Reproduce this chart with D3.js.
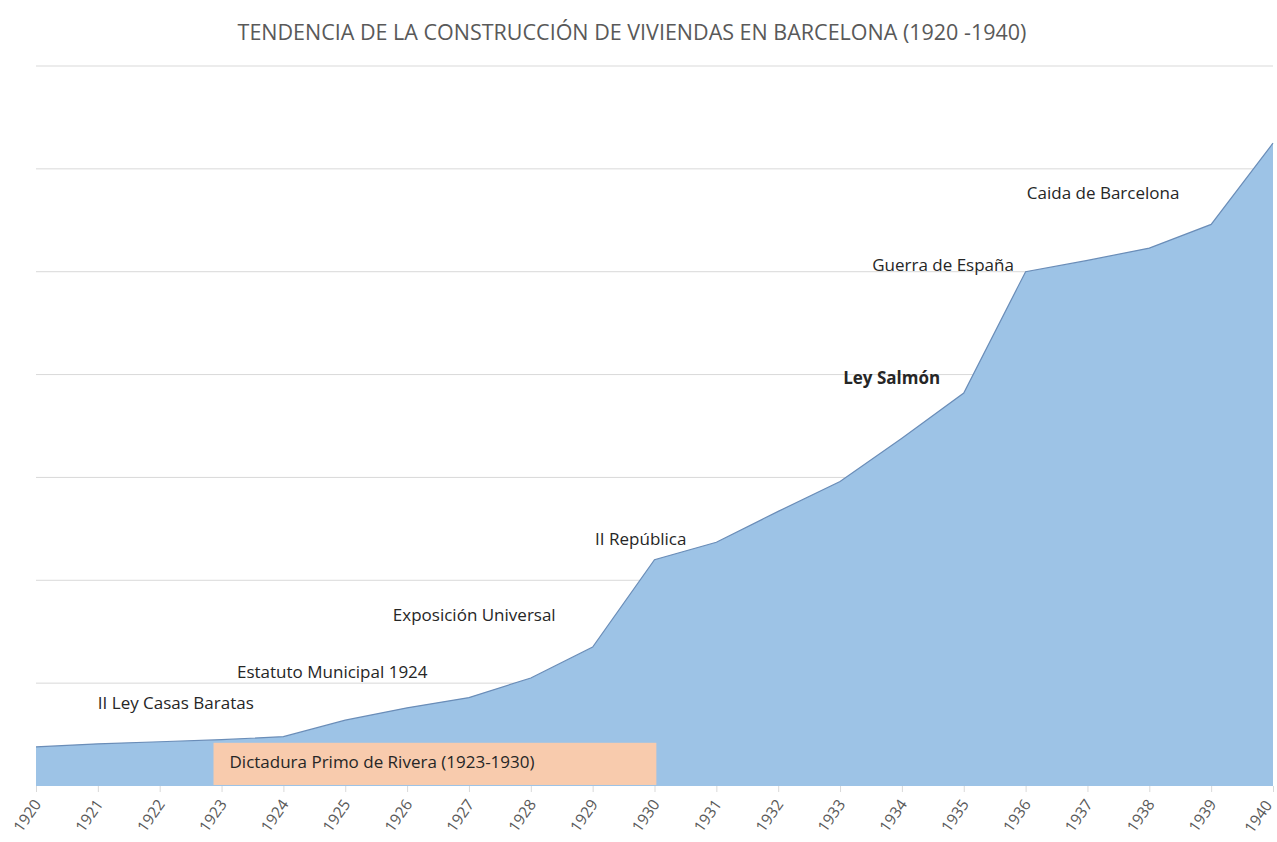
<!DOCTYPE html>
<html>
<head>
<meta charset="utf-8">
<script src="https://cdn.jsdelivr.net/npm/d3@7"></script>
<style>
  body { margin: 0; background: #fff; }
  svg { display: block; font-family: "Open Sans", sans-serif; }
</style>
</head>
<body>
<div id="chart"></div>
<script>
const years = d3.range(1920, 1941);
// built dwellings, relative units read off the gridlines (no y labels in source)
const values = [0.38, 0.41, 0.43, 0.45, 0.48, 0.64, 0.76, 0.86, 1.05, 1.35, 2.20,
                2.37, 2.67, 2.96, 3.38, 3.82, 5.00, 5.11, 5.23, 5.46, 6.25];
const gridValues = [1, 2, 3, 4, 5, 6, 7];

// events: text, year where text starts, value at text baseline
const eventLabels = ["II Ley Casas Baratas", "Estatuto Municipal 1924", "Exposición Universal",
                     "II República", "Ley Salmón", "Guerra de España", "Caida de Barcelona"];
const eventYears = [1921.0, 1923.25, 1925.77, 1929.04, 1933.05, 1933.52, 1936.02];
const eventValues = [0.75, 1.05, 1.60, 2.34, 3.91, 5.01, 5.71];
const eventBold = [false, false, false, false, true, false, false];

const dictLabel = "Dictadura Primo de Rivera (1923-1930)";
const dictRange = [1922.87, 1930.03];
const dictValues = [0.01, 0.42];

const title = "TENDENCIA DE LA CONSTRUCCIÓN DE VIVIENDAS EN BARCELONA (1920 -1940)";

const width = 1277, height = 842;
const margin = {top: 66, right: 4, bottom: 56, left: 36};

const svg = d3.select("#chart")
  .append("svg")
    .attr("width", width)
    .attr("height", height);

const x = d3.scaleLinear()
    .domain([1920, 1940])
    .range([margin.left, width - margin.right]);
const y = d3.scaleLinear()
    .domain([0, 7])
    .range([height - margin.bottom, margin.top]);

svg.append("text")
    .attr("x", 632)
    .attr("y", 40)
    .attr("text-anchor", "middle")
    .attr("fill", "#595959")
    .style("font-size", "21.5px")
    .text(title);

// gridlines
svg.append("g")
  .selectAll("line")
  .data(gridValues)
  .join("line")
    .attr("x1", x(1920))
    .attr("x2", x(1940))
    .attr("y1", d => y(d))
    .attr("y2", d => y(d))
    .attr("stroke", "#d9d9d9")
    .attr("stroke-width", 1);

const data = years.map((yr, i) => ({year: yr, value: values[i]}));

svg.append("path")
  .datum(data)
    .attr("fill", "#9dc3e6")
    .attr("d", d3.area()
      .x(d => x(d.year))
      .y0(y(0))
      .y1(d => y(d.value)));

svg.append("path")
  .datum(data)
    .attr("fill", "none")
    .attr("stroke", "#6a8db8")
    .attr("stroke-width", 1.2)
    .attr("d", d3.line()
      .x(d => x(d.year))
      .y(d => y(d.value)));

// dictatorship box
svg.append("rect")
    .attr("x", x(dictRange[0]))
    .attr("y", y(dictValues[1]))
    .attr("width", x(dictRange[1]) - x(dictRange[0]))
    .attr("height", y(dictValues[0]) - y(dictValues[1]))
    .attr("fill", "#f8cbad");

svg.append("text")
    .attr("x", x(dictRange[0]) + 16)
    .attr("y", y(0.175))
    .attr("fill", "#262626")
    .style("font-size", "17px")
    .text(dictLabel);

// x axis
const xAxis = svg.append("g")
    .attr("transform", `translate(0, ${y(0)})`)
    .call(d3.axisBottom(x)
      .tickValues(years)
      .tickFormat(d3.format("d"))
      .tickSize(6));
xAxis.select(".domain").remove();
xAxis.selectAll(".tick line").attr("stroke", "#d9d9d9");
xAxis.selectAll(".tick text")
    .attr("fill", "#595959")
    .style("font-size", "15.5px")
    .style("font-family", "'Open Sans', sans-serif")
    .attr("text-anchor", "end")
    .attr("x", 0)
    .attr("y", 0)
    .attr("dy", "0.35em")
    // last label pulled in a little so it stays inside the page
    .attr("transform", d => d === 1940 ? "translate(-5, 16) rotate(-55)" : "translate(1, 15) rotate(-55)");

// event labels
svg.append("g")
  .selectAll("text")
  .data(eventLabels)
  .join("text")
    .attr("x", (d, i) => x(eventYears[i]))
    .attr("y", (d, i) => y(eventValues[i]))
    .attr("fill", "#262626")
    .style("font-size", "17px")
    .style("font-weight", (d, i) => eventBold[i] ? "bold" : "normal")
    .text(d => d);
</script>
</body>
</html>
